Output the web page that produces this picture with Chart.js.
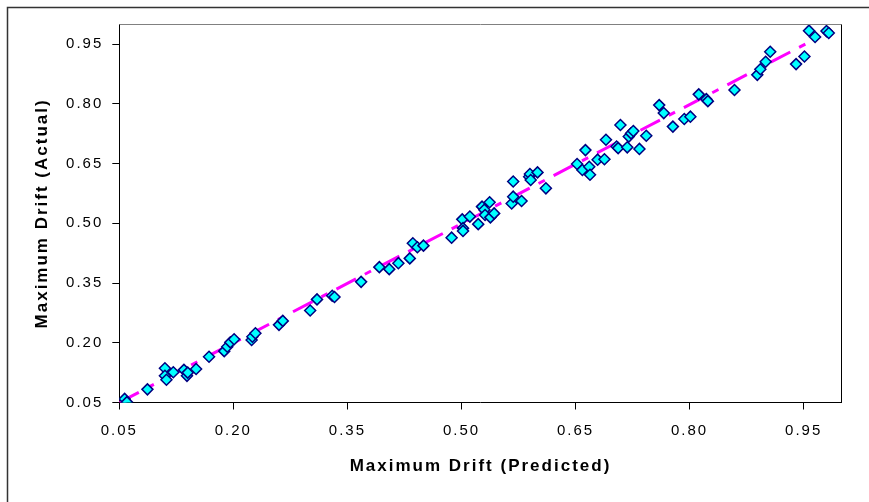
<!DOCTYPE html>
<html>
<head>
<meta charset="utf-8">
<script src="https://cdn.jsdelivr.net/npm/chart.js@4.4.0/dist/chart.umd.min.js"></script>
<style>
  body { margin: 0; background: #fff; }
  #wrap { width: 869px; height: 502px; }
</style>
</head>
<body>
<div id="wrap"><canvas id="myChart" width="869" height="502"></canvas></div>
<script>
// data
const predicted = [
  0.057, 0.060, 0.087, 0.110, 0.110, 0.112, 0.121, 0.135, 0.139, 0.140,
  0.151, 0.168, 0.188, 0.192, 0.196, 0.201, 0.224, 0.225, 0.229, 0.260,
  0.265, 0.301, 0.310, 0.330, 0.333,
  0.368, 0.392, 0.405, 0.417, 0.432, 0.436, 0.442, 0.450, 0.487, 0.501,
  0.502, 0.502, 0.511, 0.522, 0.527, 0.530, 0.531, 0.537, 0.538, 0.543,
  0.566, 0.568, 0.568, 0.579, 0.589, 0.590, 0.591, 0.600, 0.611, 0.652,
  0.659, 0.663, 0.668, 0.669, 0.679,
  0.688, 0.690, 0.704, 0.706, 0.709, 0.718, 0.720, 0.723, 0.726, 0.734,
  0.743, 0.760, 0.766, 0.778, 0.793, 0.801, 0.812, 0.822, 0.824, 0.859,
  0.889, 0.893, 0.900, 0.906, 0.940, 0.951, 0.957, 0.965, 0.980, 0.983
];
const actual = [
  0.059, 0.051, 0.083, 0.136, 0.117, 0.107, 0.126, 0.132, 0.117, 0.125,
  0.134, 0.165, 0.179, 0.190, 0.201, 0.209, 0.207, 0.215, 0.224, 0.245,
  0.255, 0.281, 0.309, 0.318, 0.315,
  0.353, 0.390, 0.385, 0.400, 0.412, 0.450, 0.440, 0.444, 0.464, 0.510,
  0.488, 0.481, 0.517, 0.498, 0.542, 0.534, 0.521, 0.553, 0.515, 0.525,
  0.550, 0.567, 0.605, 0.556, 0.617, 0.624, 0.609, 0.628, 0.588, 0.649,
  0.634, 0.684, 0.642, 0.622, 0.660,
  0.661, 0.710, 0.693, 0.689, 0.747, 0.691, 0.718, 0.726, 0.732, 0.687,
  0.720, 0.797, 0.777, 0.743, 0.762, 0.768, 0.824, 0.812, 0.807, 0.835,
  0.873, 0.887, 0.906, 0.931, 0.900, 0.919, 0.984, 0.968, 0.983, 0.978
];

// trend line ends
const trendX = [0.05, 0.965];
const trendY = [0.05, 0.963];

const xTicks = [0.05, 0.20, 0.35, 0.50, 0.65, 0.80, 0.95];
const yTicks = [0.05, 0.20, 0.35, 0.50, 0.65, 0.80, 0.95];

const points = predicted.map((x, i) => ({ x: x, y: actual[i] }));
const trend = trendX.map((x, i) => ({ x: x, y: trendY[i] }));

const fontFamily = "'Liberation Sans', Arial, sans-serif";

// white background, outer frame, top/right edge of plot box
const framePlugin = {
  id: 'frame',
  beforeDraw(chart) {
    const c = chart.ctx;
    c.save();
    c.fillStyle = '#fff';
    c.fillRect(0, 0, chart.width, chart.height);
    c.strokeStyle = '#333';
    c.lineWidth = 1.5;
    c.strokeRect(7.5, 7.5, 950, 600);
    c.restore();
    c.letterSpacing = '2px';
  },
  afterDraw(chart) {
    const c = chart.ctx;
    const a = chart.chartArea;
    const top = Math.round(a.top) + 0.5;
    const right = Math.round(a.right) - 0.5;
    c.save();
    c.lineWidth = 1;
    c.strokeStyle = '#808080';
    c.beginPath();
    c.moveTo(a.left, top);
    c.lineTo(right, top);
    c.stroke();
    c.strokeStyle = '#000';
    c.beginPath();
    c.moveTo(right, top);
    c.lineTo(right, a.bottom);
    c.stroke();
    c.restore();
  }
};

const ctx = document.getElementById('myChart').getContext('2d');

const myChart = new Chart(ctx, {
  type: 'scatter',
  data: {
    datasets: [
      {
        label: 'Drift',
        data: points,
        pointStyle: 'rectRot',
        pointRadius: 5.5,
        borderWidth: 1.5,
        borderColor: '#000080',
        backgroundColor: '#00FFFF',
        order: 1
      },
      {
        type: 'line',
        label: 'Trend',
        data: trend,
        borderColor: '#FF00FF',
        borderWidth: 3,
        borderDash: [22, 10, 7, 10],
        pointRadius: 0,
        fill: false,
        order: 2
      }
    ]
  },
  options: {
    responsive: false,
    animation: false,
    devicePixelRatio: 1,
    events: [],
    layout: { padding: { left: 0, top: 24.3, right: 27.3, bottom: 0 } },
    plugins: {
      legend: { display: false },
      tooltip: { enabled: false }
    },
    scales: {
      x: {
        type: 'linear',
        min: 0.05,
        max: 1.0,
        afterBuildTicks: (scale) => { scale.ticks = xTicks.map(v => ({ value: v })); },
        afterFit: (scale) => { scale.height = 99.5; },
        grid: { drawOnChartArea: false, drawTicks: true, tickLength: 7, color: '#000' },
        border: { color: '#000', width: 1 },
        ticks: {
          autoSkip: false,
          maxRotation: 0,
          padding: 12,
          color: '#000',
          font: { family: fontFamily, size: 15 },
          callback: (value) => value.toFixed(2)
        },
        title: {
          display: true,
          text: 'Maximum Drift (Predicted)',
          color: '#000',
          font: { family: fontFamily, size: 17, weight: 'bold' },
          padding: { top: 0, bottom: 25 }
        }
      },
      y: {
        type: 'linear',
        min: 0.05,
        max: 1.0,
        afterBuildTicks: (scale) => { scale.ticks = yTicks.map(v => ({ value: v })); },
        afterFit: (scale) => { scale.width = 119.3; },
        grid: { drawOnChartArea: false, drawTicks: true, tickLength: 7, color: '#000' },
        border: { color: '#000', width: 1 },
        ticks: {
          padding: 9,
          color: '#000',
          font: { family: fontFamily, size: 15 },
          callback: (value) => value.toFixed(2)
        },
        title: {
          display: true,
          text: 'Maximum Drift (Actual)',
          color: '#000',
          font: { family: fontFamily, size: 17, weight: 'bold' },
          padding: { top: 32, bottom: 0 }
        }
      }
    }
  },
  plugins: [framePlugin]
});
</script>
</body>
</html>
